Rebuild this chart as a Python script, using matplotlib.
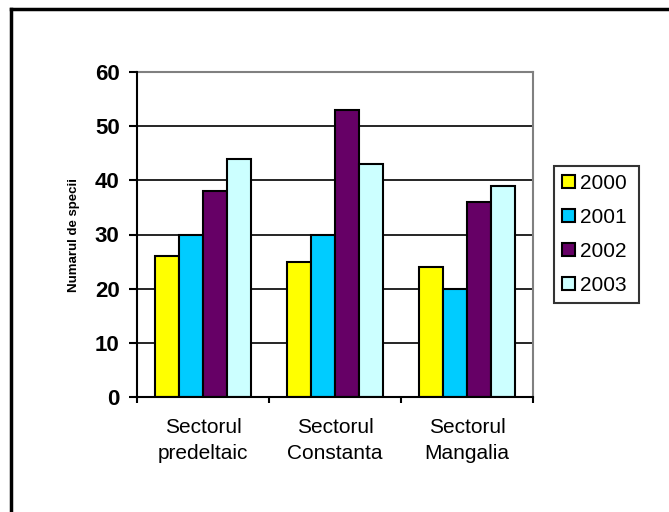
import numpy as np
import matplotlib.pyplot as plt
from matplotlib.lines import Line2D

plt.rcParams['font.family'] = ['Liberation Sans', 'DejaVu Sans']

sectors = ["Sectorul\npredeltaic", "Sectorul\nConstanta", "Sectorul\nMangalia"]
years = ["2000", "2001", "2002", "2003"]
v2000 = [26, 25, 24]
v2001 = [30, 30, 20]
v2002 = [38, 53, 36]
v2003 = [44, 43, 39]
series = [v2000, v2001, v2002, v2003]
colors = ["#FFFF00", "#00CCFF", "#660066", "#CCFFFF"]

fig = plt.figure(figsize=(6.69, 5.12), dpi=100)
ax = fig.add_axes([137/669, 1-397/512, (533-137)/669, (397-72)/512])

x = np.arange(len(sectors))
w = 1/5.5
for i, vals in enumerate(series):
    ax.bar(x + (i-1.5)*w, vals, w, color=colors[i], edgecolor="black",
           linewidth=1.5, label=years[i], zorder=3)

ax.set_xlim(-0.5, 2.5)
ax.set_ylim(0, 60)
ax.set_yticks(range(0, 61, 10))
ax.set_yticklabels([str(t) for t in range(0, 61, 10)], fontsize=16, fontweight="bold")
ax.yaxis.grid(True, color="black", linewidth=1.2, zorder=0)
ax.set_xticks([-0.5, 0.5, 1.5, 2.5])
ax.set_xticklabels([])
ax.set_xticks(x, minor=True)
ax.set_xticklabels(sectors, minor=True, fontsize=15, linespacing=1.45)
ax.tick_params(axis="x", which="minor", length=0, pad=15)
ax.tick_params(axis="x", which="major", length=4.5, width=1.5, direction="out")
ax.tick_params(axis="y", length=5.5, width=1.5, direction="out", pad=7)

for s in ["left", "bottom"]:
    ax.spines[s].set_linewidth(1.5)
    ax.spines[s].set_zorder(4)
for s in ["top", "right"]:
    ax.spines[s].set_color("#808080")
    ax.spines[s].set_linewidth(1.5)

ax.set_ylabel("Numarul de specii", fontsize=9.5, fontweight="bold")
ax.yaxis.set_label_coords((80-137)/(533-137), 0.5)

leg = ax.legend(loc="center", bbox_to_anchor=(554/669, 1-303/512, (639-554)/669, (303-166)/512),
                bbox_transform=fig.transFigure, mode="expand", fontsize=15,
                frameon=True, fancybox=False, handlelength=0.62, handleheight=0.62,
                handletextpad=0.25, labelspacing=0.72, borderaxespad=0, borderpad=0.4)
leg.get_frame().set_edgecolor("black")
leg.get_frame().set_linewidth(1.5)

# outer chart border (only left and top visible)
fig.add_artist(Line2D([11/669, 11/669], [0, 1-9/512], color="black", linewidth=2.5, transform=fig.transFigure))
fig.add_artist(Line2D([11/669, 1], [1-9/512, 1-9/512], color="black", linewidth=2.5, transform=fig.transFigure))

fig.savefig("out.png", dpi=100)
